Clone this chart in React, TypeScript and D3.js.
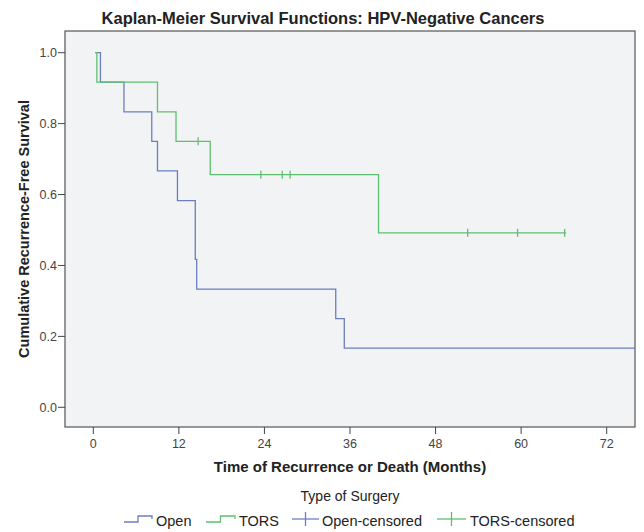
import React, { useMemo } from 'react';
import * as d3 from 'd3';

// step data (time in months, survival after the step)
const openStepTimes = [0.25, 1.0, 4.3, 8.2, 9.0, 11.8, 14.3, 14.5, 34.0, 35.2];
const openStepSurv = [1.0, 0.917, 0.833, 0.75, 0.667, 0.583, 0.417, 0.333, 0.25, 0.167];
const openEndTime = 80;

const torsStepTimes = [0.25, 0.5, 9.0, 11.6, 16.4, 40.0];
const torsStepSurv = [1.0, 0.917, 0.833, 0.75, 0.656, 0.492];
const torsEndTime = 66.3;
const torsCensorTimes = [14.7, 23.5, 26.5, 27.6, 52.5, 59.5, 66.1];

const xTicks = [0, 12, 24, 36, 48, 60, 72];
const yTicks = [0, 0.2, 0.4, 0.6, 0.8, 1.0];

const legendLabels = ['Open', 'TORS', 'Open-censored', 'TORS-censored'];

const BLUE = '#6b7fc0';
const GREEN = '#5ec06e';
const FONT = '"Liberation Sans", Arial, Helvetica, sans-serif';

type Pt = { t: number; s: number };

function buildSteps(times: number[], surv: number[], end: number): Pt[] {
  const pts = times.map((t, i) => ({ t, s: surv[i] }));
  pts.push({ t: end, s: surv[surv.length - 1] });
  return pts;
}

function survAt(times: number[], surv: number[], t: number) {
  let s = surv[0];
  times.forEach((tt, i) => {
    if (tt <= t) s = surv[i];
  });
  return s;
}

export default function App() {
  const W = 644;
  const H = 532;
  const frame = { left: 65, right: 635, top: 31, bottom: 427 };

  const x = useMemo(() => d3.scaleLinear().domain([0, 72]).range([93.3, 606.7]), []);
  const y = useMemo(() => d3.scaleLinear().domain([0, 1]).range([407.3, 52.7]), []);

  const line = d3
    .line<Pt>()
    .x(d => x(d.t))
    .y(d => y(d.s))
    .curve(d3.curveStepAfter);

  const openPath = line(buildSteps(openStepTimes, openStepSurv, openEndTime)) || '';
  const torsPath = line(buildSteps(torsStepTimes, torsStepSurv, torsEndTime)) || '';

  const censors = torsCensorTimes.map(t => ({ t, s: survAt(torsStepTimes, torsStepSurv, t) }));

  const cx = (frame.left + frame.right) / 2;

  // legend layout
  const legY = 521;
  const stepIcon = (x0: number, w: number, color: string) => (
    <path
      d={`M${x0},${legY + 1}H${x0 + w / 2}V${legY - 5}H${x0 + w}V${legY - 2}`}
      fill="none"
      stroke={color}
      strokeWidth={1.3}
    />
  );
  const crossIcon = (x0: number, w: number, color: string) => (
    <g stroke={color} strokeWidth={1.3}>
      <line x1={x0} x2={x0 + w} y1={legY - 2} y2={legY - 2} />
      <line x1={x0 + w / 2} x2={x0 + w / 2} y1={legY - 9} y2={legY + 5} />
    </g>
  );

  return (
    <svg
      width={W}
      height={H}
      style={{ position: 'absolute', left: 0, top: 0, background: '#ffffff' }}
      fontFamily={FONT}
    >
      <defs>
        <clipPath id="plot-clip">
          <rect x={frame.left} y={frame.top} width={frame.right - frame.left} height={frame.bottom - frame.top} />
        </clipPath>
      </defs>

      <text x={323} y={24} textAnchor="middle" fontSize={16.5} fontWeight="bold" fill="#222">
        Kaplan-Meier Survival Functions: HPV-Negative Cancers
      </text>

      {/* plot background + frame */}
      <rect
        x={frame.left}
        y={frame.top}
        width={frame.right - frame.left}
        height={frame.bottom - frame.top}
        fill="#f2f3f4"
        stroke="#555"
        strokeWidth={1.2}
      />

      {/* y axis */}
      {yTicks.map(v => (
        <g key={v}>
          <line x1={frame.left - 7} x2={frame.left} y1={y(v)} y2={y(v)} stroke="#444" strokeWidth={1} />
          <text x={frame.left - 8} y={y(v) + 4.5} textAnchor="end" fontSize={12.5} fill="#444">
            {d3.format('.1f')(v)}
          </text>
        </g>
      ))}

      {/* x axis */}
      {xTicks.map(v => (
        <g key={v}>
          <line x1={x(v)} x2={x(v)} y1={frame.bottom} y2={frame.bottom + 7} stroke="#444" strokeWidth={1} />
          <text x={x(v)} y={frame.bottom + 21} textAnchor="middle" fontSize={12.5} fill="#444">
            {v}
          </text>
        </g>
      ))}

      <text
        transform={`translate(29,${(frame.top + frame.bottom) / 2}) rotate(-90)`}
        textAnchor="middle"
        fontSize={14.5}
        fontWeight="bold"
        fill="#222"
      >
        Cumulative Recurrence-Free Survival
      </text>
      <text x={cx} y={472} textAnchor="middle" fontSize={15} fontWeight="bold" fill="#222">
        Time of Recurrence or Death (Months)
      </text>

      {/* survival curves */}
      <g clipPath="url(#plot-clip)">
        <path d={openPath} fill="none" stroke={BLUE} strokeWidth={1.3} />
        <path d={torsPath} fill="none" stroke={GREEN} strokeWidth={1.3} />
        {censors.map((c, i) => (
          <line
            key={i}
            x1={x(c.t)}
            x2={x(c.t)}
            y1={y(c.s) - 4}
            y2={y(c.s) + 4}
            stroke={GREEN}
            strokeWidth={1.3}
          />
        ))}
      </g>

      {/* legend */}
      <text x={cx} y={501} textAnchor="middle" fontSize={14} fill="#222">
        Type of Surgery
      </text>
      {stepIcon(124, 28, BLUE)}
      <text x={156} y={legY + 5} fontSize={14.5} fill="#222">{legendLabels[0]}</text>
      {stepIcon(206, 29, GREEN)}
      <text x={239} y={legY + 5} fontSize={14.5} fill="#222">{legendLabels[1]}</text>
      {crossIcon(292, 27, BLUE)}
      <text x={322} y={legY + 5} fontSize={14.5} fill="#222">{legendLabels[2]}</text>
      {crossIcon(437, 29, GREEN)}
      <text x={470} y={legY + 5} fontSize={14.5} fill="#222">{legendLabels[3]}</text>
    </svg>
  );
}
